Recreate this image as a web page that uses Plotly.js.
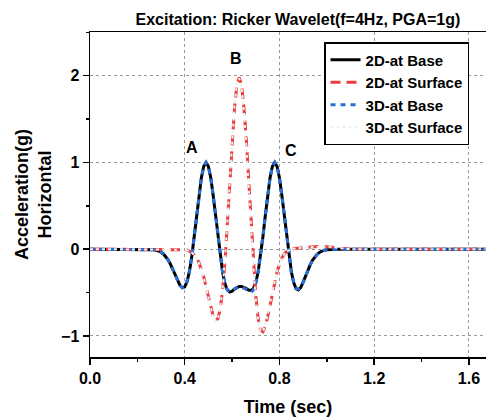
<!DOCTYPE html>
<html>
<head>
<meta charset="utf-8">
<script src="https://cdn.plot.ly/plotly-3.0.1.min.js"></script>
<style>html,body{margin:0;padding:0;background:#fff;}#chart{width:486px;height:420px;}</style>
</head>
<body>
<div id="chart"></div>
<script>
// Time axes (sec)
const timeBase = [0, 0.2, 0.25, 0.26, 0.27, 0.28, 0.29, 0.30, 0.31, 0.32, 0.33, 0.34, 0.35, 0.36, 0.37, 0.38, 0.39,
  0.40, 0.41, 0.42, 0.43, 0.44, 0.45, 0.46, 0.47, 0.48, 0.49, 0.50, 0.51, 0.52, 0.53, 0.54, 0.55, 0.56, 0.57, 0.58, 0.59,
  0.60, 0.61, 0.62, 0.63, 0.64, 0.65, 0.66, 0.67, 0.68, 0.69, 0.70, 0.71, 0.72, 0.73, 0.74, 0.75, 0.76, 0.77, 0.78, 0.79,
  0.80, 0.81, 0.82, 0.83, 0.84, 0.85, 0.86, 0.87, 0.88, 0.89, 0.90, 0.91, 0.92, 0.93, 0.94, 0.95, 0.96, 0.97, 0.98, 0.99,
  1.00, 1.01, 1.02, 1.03, 1.05, 1.67];
// 2D-at Base acceleration (g)
const base2D = [0, 0, -0.002, -0.004, -0.007, -0.012, -0.021, -0.035, -0.055, -0.085, -0.124, -0.175, -0.235, -0.30, -0.365, -0.418, -0.445,
  -0.434, -0.372, -0.253, -0.078, 0.142, 0.384, 0.621, 0.82, 0.953, 1.0, 0.953, 0.82, 0.62, 0.383, 0.14, -0.085, -0.27, -0.40, -0.47, -0.495,
  -0.485, -0.46, -0.44, -0.43, -0.43, -0.44, -0.455, -0.47, -0.475, -0.455, -0.384, -0.26, -0.082, 0.14, 0.383, 0.62, 0.82, 0.953, 1.0, 0.953,
  0.82, 0.621, 0.384, 0.142, -0.078, -0.26, -0.385, -0.455, -0.47, -0.44, -0.38, -0.31, -0.24, -0.178, -0.126, -0.086, -0.056, -0.035, -0.021, -0.012,
  -0.007, -0.004, -0.002, -0.001, 0, 0];
// 3D-at Base acceleration (g)
const base3D = [0, 0, -0.002, -0.004, -0.007, -0.012, -0.021, -0.035, -0.055, -0.085, -0.124, -0.175, -0.235, -0.30, -0.365, -0.418, -0.445,
  -0.434, -0.372, -0.253, -0.078, 0.142, 0.384, 0.621, 0.82, 0.953, 1.0, 0.953, 0.82, 0.62, 0.383, 0.14, -0.085, -0.27, -0.40, -0.47, -0.49,
  -0.48, -0.46, -0.44, -0.435, -0.44, -0.45, -0.465, -0.485, -0.50, -0.47, -0.39, -0.26, -0.082, 0.14, 0.383, 0.62, 0.82, 0.953, 1.0, 0.953,
  0.82, 0.621, 0.384, 0.142, -0.078, -0.26, -0.38, -0.45, -0.46, -0.435, -0.38, -0.31, -0.24, -0.178, -0.126, -0.086, -0.056, -0.035, -0.021, -0.012,
  -0.007, -0.004, -0.002, -0.001, 0, 0];

const timeSurf = [0, 0.3, 0.38, 0.39, 0.40, 0.41, 0.42, 0.43, 0.44, 0.45, 0.46, 0.47, 0.48, 0.49, 0.50, 0.51, 0.52, 0.53, 0.54, 0.55,
  0.56, 0.57, 0.58, 0.59, 0.60, 0.61, 0.62, 0.63, 0.64, 0.65, 0.66, 0.67, 0.68, 0.69, 0.70, 0.71, 0.72, 0.73, 0.74, 0.75,
  0.76, 0.77, 0.78, 0.79, 0.80, 0.81, 0.82, 0.83, 0.84, 0.85, 0.86, 0.87, 0.88, 0.89, 0.90, 0.92, 0.94, 0.96, 0.98, 1.00,
  1.02, 1.04, 1.06, 1.08, 1.10, 1.67];
// 2D-at Surface acceleration (g)
const surf2D = [0, 0, 0, -0.002, -0.006, -0.012, -0.022, -0.038, -0.063, -0.10, -0.155, -0.23, -0.32, -0.43, -0.55, -0.67, -0.77, -0.82, -0.80, -0.69,
  -0.47, -0.14, 0.28, 0.76, 1.23, 1.62, 1.89, 1.98, 1.89, 1.63, 1.26, 0.78, 0.29, -0.16, -0.54, -0.80, -0.93, -0.95, -0.89, -0.78,
  -0.64, -0.50, -0.37, -0.26, -0.17, -0.10, -0.055, -0.025, -0.008, 0.0, 0.005, 0.01, 0.012, 0.015, 0.018, 0.022, 0.026, 0.03, 0.032, 0.03,
  0.025, 0.018, 0.01, 0.005, 0, 0];
// 3D-at Surface acceleration (g)
const surf3D = [0, 0, 0, -0.002, -0.006, -0.013, -0.024, -0.040, -0.066, -0.105, -0.16, -0.24, -0.33, -0.44, -0.56, -0.68, -0.78, -0.83, -0.80, -0.68,
  -0.45, -0.11, 0.32, 0.80, 1.27, 1.65, 1.90, 1.97, 1.86, 1.58, 1.20, 0.72, 0.23, -0.21, -0.58, -0.82, -0.94, -0.95, -0.88, -0.77,
  -0.63, -0.49, -0.36, -0.25, -0.16, -0.10, -0.055, -0.025, -0.008, 0.0, 0.005, 0.01, 0.012, 0.015, 0.018, 0.022, 0.026, 0.03, 0.032, 0.03,
  0.025, 0.018, 0.01, 0.005, 0, 0];

const seriesNames = ['2D-at Base', '2D-at Surface', '3D-at Base', '3D-at Surface'];
const xTicks = [0, 0.4, 0.8, 1.2, 1.6];
const xTickLabels = ['0.0', '0.4', '0.8', '1.2', '1.6'];
const yTicks = [-1, 0, 1, 2];
const yTickLabels = ['\u22121', '0', '1', '2'];
const peakLabels = ['A', 'B', 'C'];
const peakX = [0.431, 0.618, 0.848];
const peakY = [1.167, 2.199, 1.138];

const FONT = 'Arial, "Liberation Sans", sans-serif';

const traces = [
  {x: timeBase, y: base2D, name: seriesNames[0], mode: 'lines', line: {color: '#000000', width: 3}},
  {x: timeSurf, y: surf2D, name: seriesNames[1], mode: 'lines', line: {color: '#ee3b3f', width: 3, dash: '10px,6px'}},
  {x: timeBase, y: base3D, name: seriesNames[2], mode: 'lines', line: {color: '#2870d8', width: 3, dash: '5px,5px'}},
  {x: timeSurf, y: surf3D, name: seriesNames[3], mode: 'lines', line: {color: '#e6f3ee', width: 2, dash: 'dot'}}
];

const annotations = peakLabels.map((t, i) => ({
  x: peakX[i], y: peakY[i], xref: 'x', yref: 'y', text: '<b>' + t + '</b>', showarrow: false,
  font: {family: FONT, size: 16, color: '#000'}
}));

const layout = {
  width: 486, height: 420,
  margin: {l: 90, r: 0, t: 32, b: 63},
  paper_bgcolor: '#fff', plot_bgcolor: '#fff',
  showlegend: true,
  title: {text: '<b>Excitation: Ricker Wavelet(f=4Hz, PGA=1g)</b>', font: {family: FONT, size: 16, color: '#000'},
    x: 0.613, xanchor: 'center', xref: 'container', y: 1 - 19 / 420, yanchor: 'middle', yref: 'container'},
  xaxis: {
    range: [0, 1.672], tickvals: xTicks, ticktext: xTickLabels,
    ticks: 'outside', ticklen: 6, tickwidth: 1.5, tickcolor: '#000',
    showline: true, linecolor: '#000', linewidth: 1.5, mirror: true,
    showgrid: true, gridcolor: '#999', gridwidth: 1, griddash: 'dot', zeroline: false,
    tickfont: {family: FONT, size: 16, color: '#000', weight: 'bold'},
    minor: {dtick: 0.2, tick0: 0, ticks: 'outside', ticklen: 3, tickwidth: 1.5, tickcolor: '#000', showgrid: false},
    title: {text: '<b>Time (sec)</b>', font: {family: FONT, size: 18, color: '#000'}, standoff: 14}
  },
  yaxis: {
    range: [-1.243, 2.504], tickvals: yTicks, ticktext: yTickLabels,
    ticks: 'outside', ticklen: 6, tickwidth: 1.5, tickcolor: '#000',
    showline: true, linecolor: '#000', linewidth: 1.5, mirror: false,
    showgrid: true, gridcolor: '#999', gridwidth: 1, griddash: 'dot', zeroline: false,
    tickfont: {family: FONT, size: 16, color: '#000', weight: 'bold'},
    minor: {dtick: 0.5, tick0: 0, ticks: 'outside', ticklen: 3, tickwidth: 1.5, tickcolor: '#000', showgrid: false},
    title: {text: '<b>Acceleration(g)<br>Horizontal</b>', font: {family: FONT, size: 18, color: '#000'}, standoff: 4}
  },
  legend: {
    x: 0.591, y: 0.969, xanchor: 'left', yanchor: 'top',
    bgcolor: '#fff', bordercolor: '#000', borderwidth: 1.5,
    font: {family: FONT, size: 15, color: '#000', weight: 'bold'},
    tracegroupgap: 0
  },
  annotations: annotations
};

Plotly.newPlot('chart', traces, layout, {displayModeBar: false, staticPlot: true});
</script>
</body>
</html>
